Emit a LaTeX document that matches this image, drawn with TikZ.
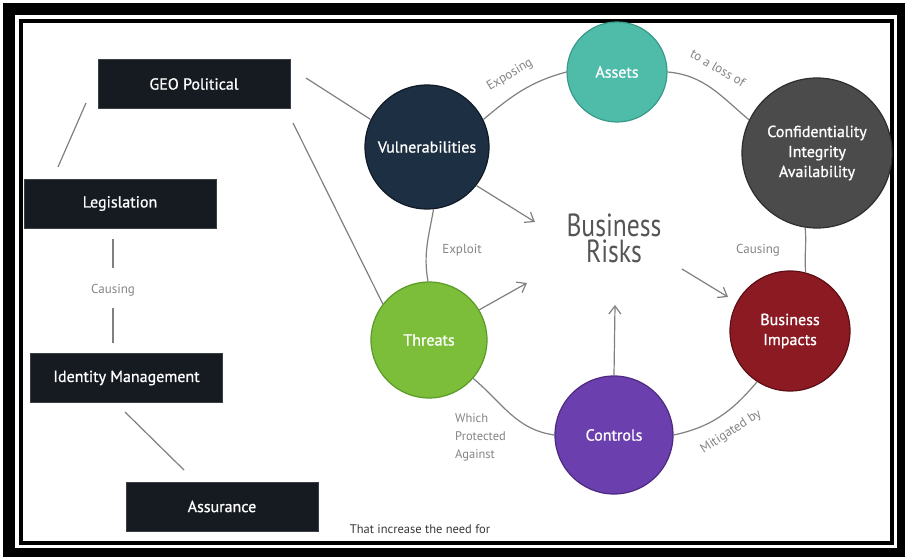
\documentclass[tikz,border=0pt]{standalone}
\usepackage{fontspec}
\setmainfont{PT Sans}
\newfontfamily\riskfont[FakeStretch=0.8]{PT Sans}
\newfontfamily\whitefont[FakeBold=0.9]{PT Sans}
\usetikzlibrary{arrows.meta}
\definecolor{boxfill}{HTML}{161B22}
\definecolor{boxline}{HTML}{3A3F46}
\definecolor{vulfill}{HTML}{1D2F42}
\definecolor{vulline}{HTML}{0F1A26}
\definecolor{astfill}{HTML}{4FBBA9}
\definecolor{astline}{HTML}{3A9A88}
\definecolor{ciafill}{HTML}{4B4B4B}
\definecolor{cialine}{HTML}{2E2E2E}
\definecolor{bifill}{HTML}{8C1A23}
\definecolor{biline}{HTML}{5E0F15}
\definecolor{ctlfill}{HTML}{6C3FAE}
\definecolor{ctlline}{HTML}{4D2A80}
\definecolor{thrfill}{HTML}{7CBE3A}
\definecolor{thrline}{HTML}{5C9A28}
\definecolor{connc}{HTML}{808080}
\definecolor{lblc}{HTML}{858585}
\definecolor{riskc}{HTML}{555555}
\begin{document}
\begin{tikzpicture}[x=1pt,y=-1pt,
  boxst/.style={fill=boxfill,draw=boxline,line width=0.8pt,minimum width=192pt,minimum height=49pt,inner sep=0pt,text=white,font=\whitefont\fontsize{16}{19}\selectfont},
  circst/.style={circle,fill=#1fill,draw=#1line,line width=1.2pt,inner sep=0pt,text=white,align=center,font=\whitefont\fontsize{16}{20}\selectfont},
  conn/.style={draw=connc,line width=1.2pt},
  arr/.style={conn,-{Straight Barb[length=8pt,width=12pt]}},
  lbl/.style={text=lblc,inner sep=0pt,font=\fontsize{13}{18}\selectfont}]
\useasboundingbox (0,0) rectangle (907,559);
% frame
\fill[white] (0,0) rectangle (907,559);
\fill[black] (3,3) rectangle (905,557);
\fill[white] (15,15) rectangle (897,548);
\fill[black] (19,19) rectangle (894,545);
\fill[white] (23,23) rectangle (890,541);
% boxes
\node[boxst] (geo) at (194,84) {GEO Political};
\node[boxst] (leg) at (120,203.5) {Legislation};
\node[boxst] (idm) at (126.5,378) {Identity Management};
\node[boxst] (asr) at (222,506.5) {Assurance};
% circles
\node[circst=vul,minimum size=124pt] (vul) at (427,147) {Vulnerabilities};
\node[circst=ast,minimum size=100pt] (ast) at (617,72) {Assets};
\node[circst=cia,minimum size=150pt] (cia) at (817,153) {Confidentiality\\Integrity\\Availability};
\node[circst=bi,minimum size=120pt] (bi) at (790,331) {Business\\Impacts};
\node[circst=ctl,minimum size=118pt] (ctl) at (614,435) {Controls};
\node[circst=thr,minimum size=116pt] (thr) at (429,340) {Threats};
% centre text
\node[text=riskc,align=center,inner sep=0pt,font=\riskfont\fontsize{32}{26}\selectfont] (risk) at (614,238) {Business\\Risks};
% free ends
\coordinate (g1) at (306,78);
\coordinate (g2) at (293,123);
\coordinate (l1) at (86,103);
\coordinate (l2) at (58,167);
\coordinate (c1) at (113,239);
\coordinate (c2) at (113,268);
\coordinate (c3) at (113,308);
\coordinate (c4) at (113,343);
\coordinate (i1) at (125,412);
\coordinate (i2) at (184,470);
\coordinate (a1) at (535,222);
\coordinate (a2) at (527,283);
\coordinate (a3) at (615,305);
\coordinate (a4s) at (682,269);
\coordinate (a4) at (728,297);
% left connectors
\draw[conn] (l1) -- (l2);
\draw[conn] (c1) -- (c2);
\draw[conn] (c3) -- (c4);
\draw[conn] (i1) -- (i2);
\draw[conn] (g1) -- (vul.154);
\draw[conn] (g2) -- (thr.142);
% ring
\draw[conn] (vul.26) to[out=40,in=195] (ast.180);
\draw[conn] (ast.0) to[out=-5,in=140] (cia.154);
\draw[conn] (cia.261) to[out=-85,in=95] (bi.75);
\draw[conn] (bi.237) to[out=-130,in=12] (ctl.0);
\draw[conn] (ctl.180) to[out=172,in=-40] (thr.-41);
\draw[conn] (thr.91) to[out=100,in=-100] (vul.-84);
% arrows
\draw[arr] (vul.-38) -- (a1);
\draw[arr] (thr.31) -- (a2);
\draw[arr] (ctl.90) -- (a3);
\draw[arr] (a4s) -- (a4);
% labels
\node[lbl,rotate=31] (lexp) at (510,75) {Exposing};
\node[lbl,rotate=-30] (lloss) at (718,68) {to a loss of};
\node[lbl] (lcaus) at (758,250) {Causing};
\node[lbl,rotate=33] (lmit) at (731,432) {Mitigated by};
\node[lbl] (lexpl) at (462,250) {Exploit};
\node[lbl,align=left,anchor=north west,font=\fontsize{12.5}{18}\selectfont] (lwhich) at (455,413) {Which\\Protected\\Against};
\node[lbl] (lcausL) at (113,290) {Causing};
\node[text=black!78,inner sep=0pt,font=\fontsize{12.5}{15}\selectfont] (lneed) at (420,529) {That increase the need for};
\end{tikzpicture}
\end{document}
